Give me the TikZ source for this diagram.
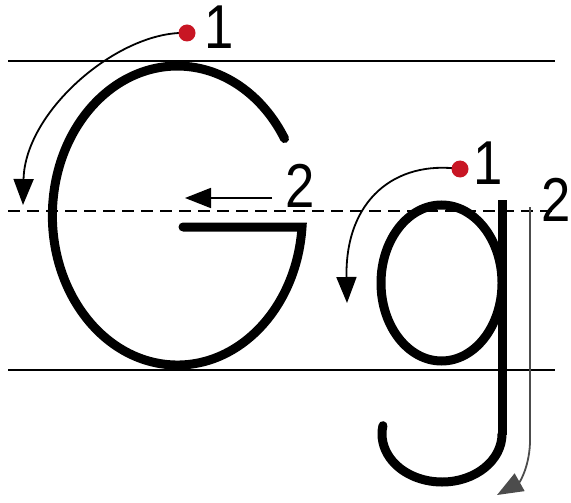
\documentclass[tikz,border=0pt]{standalone}
\usepackage{fontspec}
\setmainfont{Liberation Sans}
\usepackage{tikz}
\usetikzlibrary{arrows.meta}
\definecolor{dotred}{RGB}{200,22,36}
\newcommand{\stepnum}[1]{\scalebox{0.85}[1]{#1}}

\begin{document}
\begin{tikzpicture}[x=0.5pt,y=-0.5pt,
  guide/.style={line width=1.3pt},
  midguide/.style={line width=1pt,dash pattern=on 6pt off 3.5pt},
  letter/.style={line width=4.5pt,line cap=round,line join=miter},
  stroke/.style={line width=0.9pt,-{Triangle[length=13pt,width=10pt]}},
  startdot/.style={circle,fill=dotred,inner sep=0pt,minimum size=8.5pt},
  num/.style={inner sep=0pt,font=\fontsize{31}{31}\selectfont}]
\useasboundingbox (0,0) rectangle (571,502);
% writing lines
\foreach \y in {61,370} {
   \draw[guide] (8,\y) -- (555,\y);
}
\draw[midguide] (8,211) -- (555,211);
% capital G
\draw[letter] (183,227) -- (302,227)
   arc[start angle=4.4,end angle=329,x radius=125,y radius=149.5];
% small g
\draw[letter] (441.5,283) ellipse[x radius=60.5,y radius=78];
\draw[letter,line cap=butt] (502,200) -- (502,435);
\draw[letter] (502,434) arc[start angle=0,end angle=190,x radius=60,y radius=48];
% stroke directions
\coordinate (startG1) at (187,33);
\coordinate (endG1) at (23,205);
\coordinate (startG2) at (272,198);
\coordinate (endG2) at (185,198);
\coordinate (startg1) at (460,169);
\coordinate (endg1) at (347,303);
\coordinate (startg2) at (530,207);
\coordinate (endg2) at (497,495);
\draw[stroke] (startG1) .. controls (120,30) and (25,110) .. (endG1);
\draw[stroke] (startG2) -- (endG2);
\draw[stroke] (startg1) .. controls (395,160) and (345,200) .. (endg1);
\draw[stroke,black!70] (startg2) -- (530,440) .. controls (530,465) and (520,482) .. (endg2);
% start points and numbers
\node[startdot] (dotG) at (startG1) {};
\node[num] (oneG) at (219,27) {\stepnum{1}};
\node[num] (twoG) at (300,186) {\stepnum{2}};
\node[startdot] (dotg) at (startg1) {};
\node[num] (oneg) at (488,163) {\stepnum{1}};
\node[num] (twog) at (556,200) {\stepnum{2}};
\end{tikzpicture}
\end{document}
